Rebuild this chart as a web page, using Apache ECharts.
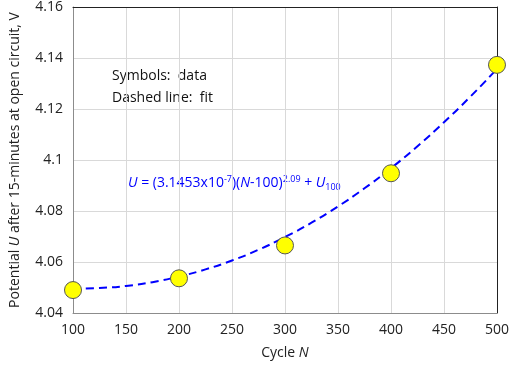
<!DOCTYPE html>
<html><head><meta charset="utf-8">
<script src="https://cdn.jsdelivr.net/npm/echarts@6/dist/echarts.min.js"></script>
<style>html,body{margin:0;padding:0;background:#fff}#c{width:512px;height:365px}</style>
</head><body><div id="c"></div>
<script>
const cycles = [100, 200, 300, 400, 500];
const potential = [4.0490, 4.0536, 4.0665, 4.0948, 4.1373];
const fitCycles = [100,125,150,175,200,225,250,275,300,325,350,375,400,425,450,475,500];
const fitPotential = [4.0495,4.0498,4.0506,4.0521,4.0543,4.0571,4.0606,4.0648,4.0698,4.0754,4.0818,4.0889,4.0968,4.1054,4.1148,4.1249,4.1357];
const xTicks = [100,150,200,250,300,350,400,450,500];
const yTicks = ['4.04','4.06','4.08','4.1','4.12','4.14','4.16'];

const chart = echarts.init(document.getElementById('c'));
const font = 'Open Sans, Liberation Sans, sans-serif';
chart.setOption({
  animation: false,
  grid: {left: 67, right: 13, top: 6, bottom: 51},
  xAxis: [{
    type: 'value', min: 100, max: 500, interval: 50,
    axisLine: {show: true, lineStyle: {color: '#8c8c8c', width: 1}},
    axisTick: {show: false},
    splitLine: {show: true, lineStyle: {color: '#d9d9d9'}},
    axisLabel: {color: '#222', fontSize: 14, fontFamily: font, margin: 10,
      formatter: v => xTicks.includes(v) ? String(v) : ''},
    name: '{n|Cycle }{i|N}', nameLocation: 'middle', nameGap: 33,
    nameTextStyle: {rich: {n: {fontSize: 14, color: '#222', fontFamily: font}, i: {fontSize: 14, color: '#222', fontFamily: font, fontStyle: 'italic'}}}
  }, {
    type: 'value', min: 100, max: 500, position: 'top',
    axisLine: {show: true, onZero: false, lineStyle: {color: '#222', width: 1}},
    axisTick: {show: false}, axisLabel: {show: false}, splitLine: {show: false}
  }],
  yAxis: [{
    type: 'value', min: 4.04, max: 4.16, interval: 0.02,
    axisLine: {show: true, lineStyle: {color: '#8c8c8c', width: 1}},
    axisTick: {show: false},
    splitLine: {show: true, lineStyle: {color: '#d9d9d9'}},
    axisLabel: {color: '#222', fontSize: 14, fontFamily: font, margin: 10,
      formatter: v => { const s = String(parseFloat(v.toFixed(2))); return yTicks.includes(s) ? s : ''; }},
    name: '{n|Potential }{i|U}{n| after 15-minutes at open circuit, V}', nameLocation: 'middle', nameGap: 51,
    nameTextStyle: {rich: {n: {fontSize: 14, color: '#222', fontFamily: font}, i: {fontSize: 14, color: '#222', fontFamily: font, fontStyle: 'italic'}}}
  }, {
    type: 'value', min: 4.04, max: 4.16, position: 'right',
    axisLine: {show: true, onZero: false, lineStyle: {color: '#222', width: 1}},
    axisTick: {show: false}, axisLabel: {show: false}, splitLine: {show: false}
  }],
  series: [{
    type: 'line', data: fitCycles.map((n, i) => [n, fitPotential[i]]),
    smooth: true, symbol: 'none',
    lineStyle: {color: '#0000ff', width: 2, type: [8, 5]}, z: 2
  }, {
    type: 'scatter', data: cycles.map((n, i) => [n, potential[i]]),
    symbolSize: 17,
    itemStyle: {color: '#ffff00', borderColor: '#555', borderWidth: 1, opacity: 1}, z: 3
  }],
  graphic: [{
    type: 'text', left: 112, top: 65,
    style: {text: 'Symbols:  data\nDashed line:  fit', font: '14px ' + font, fill: '#111', lineHeight: 22}
  }, {
    type: 'text', left: 128, top: 175,
    style: {
      text: '{i|U}{n| = (3.1453x10}{sup|-7}{n|)(}{i|N}{n|-100)}{sup|2.09}{n| + }{i|U}{sub|100}',
      rich: {
        n: {fontSize: 14, fill: '#0000ff', fontFamily: font},
        i: {fontSize: 14, fill: '#0000ff', fontFamily: font, fontStyle: 'italic'},
        sup: {fontSize: 9, fill: '#0000ff', fontFamily: font, verticalAlign: 'top', padding: [0, 0, 8, 0]},
        sub: {fontSize: 9, fill: '#0000ff', fontFamily: font, verticalAlign: 'bottom', padding: [8, 0, 0, 0]}
      }
    }
  }]
});
</script></body></html>
